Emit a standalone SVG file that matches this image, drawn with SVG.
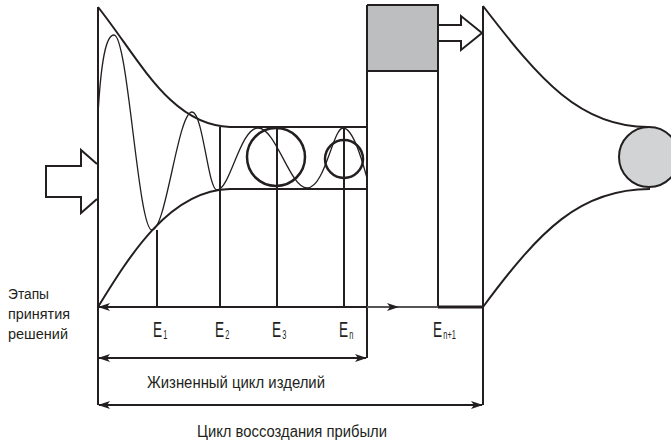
<svg xmlns="http://www.w3.org/2000/svg" width="671" height="440" viewBox="0 0 671 440">
<style>
.ln{fill:none;stroke:#231f20;stroke-width:2}
.thin{fill:none;stroke:#231f20;stroke-width:1.3}
.circ{fill:none;stroke:#231f20;stroke-width:2.5}
.txt{font-family:"Liberation Sans",Arial,sans-serif;fill:#231f20}
.e{font-size:22px}
.sub{font-size:12px}
</style>
<defs>
<marker id="ah" viewBox="0 0 12 8" refX="11" refY="4" markerWidth="12" markerHeight="8" markerUnits="userSpaceOnUse" orient="auto-start-reverse">
<path d="M0,0 L12,4 L0,8 L3,4 z" fill="#231f20"/>
</marker>
</defs>
<rect width="671" height="440" fill="#fff"/>

<g id="funnel-left">
<path class="ln" d="M98,7 L98,405"/>
<path class="ln" d="M98,7 C140,60 170,125 230,127 L367,127"/>
<path class="ln" d="M98,307 C130,255 170,190 230,189 L367,189"/>
<path class="thin" d="M98,115 C101,60 106,35 114,35 C128,35 138,230 152,230 C166,230 178,112 192,112 C203,112 208,190 217,190 C230,190 240,128 258,128 C276,128 290,188 307,188 C325,188 333,128 343,128 C353,128 362,160 367,178"/>
<circle class="circ" cx="276" cy="157" r="29"/>
<circle class="circ" cx="344" cy="159" r="19"/>
<path class="ln" d="M157,230 V307 M220,127 V307 M277,127 V307 M344,127 V307"/>
</g>

<g id="input-arrow">
<path class="ln" d="M97,164 L81,150 L81,166 L46,166 L46,197 L81,197 L81,213 L97,199"/>
</g>

<g id="block">
<rect x="367" y="5" width="71" height="66" fill="#bcbec0"/>
<path class="ln" d="M367,5 H438 V307 M367,71 H438 M367,5 V358"/>
</g>

<g id="output-arrow">
<path class="ln" d="M438,25 H461 V16 L482,33 L461,50 V41 H438"/>
</g>

<g id="funnel-right">
<path class="ln" d="M483,6 V405"/>
<path class="ln" d="M483,6 C540,80 580,127 648,127"/>
<path class="ln" d="M483,307 C540,230 580,189 650,189"/>
<circle cx="649" cy="157" r="30" fill="#d1d3d4" stroke="#231f20" stroke-width="2"/>
</g>

<g id="connectors">
<path class="ln" d="M367,307 H99" marker-end="url(#ah)"/>
<path fill="none" stroke="#555" stroke-width="2" d="M367,307 H398" marker-end="url(#ah)"/>
<path fill="none" stroke="#555" stroke-width="2" d="M398,307 H438"/>
<path fill="none" stroke="#231f20" stroke-width="3" d="M438,307 H483"/>
<path class="ln" d="M99,358 H366" marker-start="url(#ah)" marker-end="url(#ah)"/>
<path class="ln" d="M99,405 H482" marker-start="url(#ah)" marker-end="url(#ah)"/>
</g>

<g id="labels">
<text class="txt" font-size="14" x="8" y="299" textLength="41" lengthAdjust="spacingAndGlyphs">Этапы</text>
<text class="txt" font-size="14" x="8" y="319" textLength="62" lengthAdjust="spacingAndGlyphs">принятия</text>
<text class="txt" font-size="14" x="8" y="339" textLength="60" lengthAdjust="spacingAndGlyphs">решений</text>

<text class="txt e" transform="translate(153,337) scale(0.62,1)">E<tspan class="sub" dx="2" dy="2">1</tspan></text>
<text class="txt e" transform="translate(215,337) scale(0.62,1)">E<tspan class="sub" dx="2" dy="2">2</tspan></text>
<text class="txt e" transform="translate(272,337) scale(0.62,1)">E<tspan class="sub" dx="2" dy="2">3</tspan></text>
<text class="txt e" transform="translate(339,337) scale(0.62,1)">E<tspan class="sub" dx="2" dy="2">n</tspan></text>
<text class="txt e" transform="translate(433,337) scale(0.62,1)">E<tspan class="sub" dx="2" dy="2">n+1</tspan></text>

<text class="txt" font-size="16" x="147" y="388" textLength="178" lengthAdjust="spacingAndGlyphs">Жизненный цикл изделий</text>
<text class="txt" font-size="16" x="197" y="437" textLength="190" lengthAdjust="spacingAndGlyphs">Цикл воссоздания прибыли</text>
</g>
</svg>
